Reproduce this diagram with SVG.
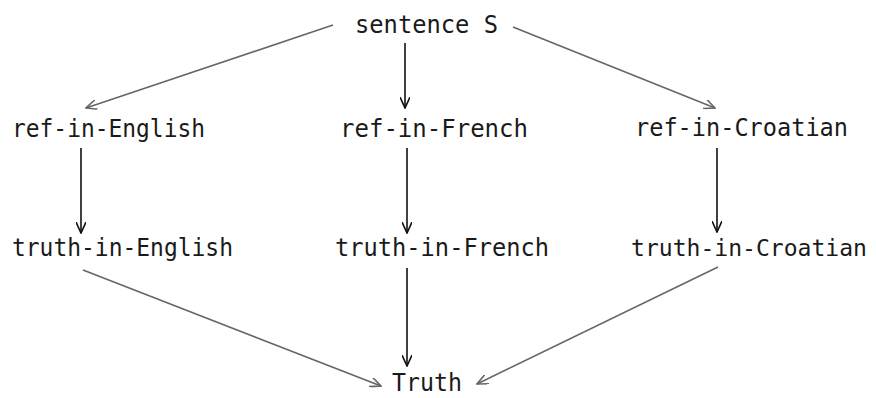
<svg xmlns="http://www.w3.org/2000/svg" width="876" height="398" viewBox="0 0 876 398">
<defs>
<style>
text{font-family:"DejaVu Sans Mono","Liberation Mono",monospace;font-size:25px;fill:#1a1a1a}
.c line{stroke-width:1.6;fill:none}
.d{stroke:#666}
.v{stroke:#111}
</style>
<marker id="ag" viewBox="0 0 12 10" refX="11" refY="5" markerWidth="12" markerHeight="10" markerUnits="userSpaceOnUse" orient="auto"><path d="M0,0 L11,5 L0,10" fill="none" stroke="#666" stroke-width="1.6"/></marker>
<marker id="ab" viewBox="0 0 12 10" refX="11" refY="5" markerWidth="12" markerHeight="10" markerUnits="userSpaceOnUse" orient="auto"><path d="M0,0 L11,5 L0,10" fill="none" stroke="#111" stroke-width="1.6"/></marker>
</defs>
<rect width="876" height="398" fill="#fff"/>
<g class="c" id="connectors">
<line class="d" x1="333" y1="25" x2="86" y2="108" marker-end="url(#ag)"/>
<line class="v" x1="405" y1="43" x2="405" y2="108" marker-end="url(#ab)"/>
<line class="d" x1="513" y1="27" x2="715" y2="108" marker-end="url(#ag)"/>
<line class="v" x1="81" y1="148" x2="81" y2="233" marker-end="url(#ab)"/>
<line class="v" x1="407" y1="148" x2="407" y2="233" marker-end="url(#ab)"/>
<line class="v" x1="717" y1="148" x2="717" y2="232" marker-end="url(#ab)"/>
<line class="d" x1="83" y1="270" x2="381" y2="386" marker-end="url(#ag)"/>
<line class="v" x1="407" y1="268" x2="407" y2="366" marker-end="url(#ab)"/>
<line class="d" x1="718" y1="267" x2="477" y2="384" marker-end="url(#ag)"/>
</g>
<g id="sentence"><text x="355" y="33" textLength="143" lengthAdjust="spacingAndGlyphs">sentence S</text></g>
<g id="ref-en"><text x="12" y="137" textLength="193" lengthAdjust="spacingAndGlyphs">ref-in-English</text></g>
<g id="ref-fr"><text x="340" y="137" textLength="188" lengthAdjust="spacingAndGlyphs">ref-in-French</text></g>
<g id="ref-hr"><text x="635" y="136" textLength="213" lengthAdjust="spacingAndGlyphs">ref-in-Croatian</text></g>
<g id="truth-en"><text x="12" y="256" textLength="221" lengthAdjust="spacingAndGlyphs">truth-in-English</text></g>
<g id="truth-fr"><text x="335" y="256" textLength="214" lengthAdjust="spacingAndGlyphs">truth-in-French</text></g>
<g id="truth-hr"><text x="631" y="256" style="font-size:23.5px" textLength="236" lengthAdjust="spacingAndGlyphs">truth-in-Croatian</text></g>
<g id="truth"><text x="392" y="391" textLength="70" lengthAdjust="spacingAndGlyphs">Truth</text></g>
</svg>
